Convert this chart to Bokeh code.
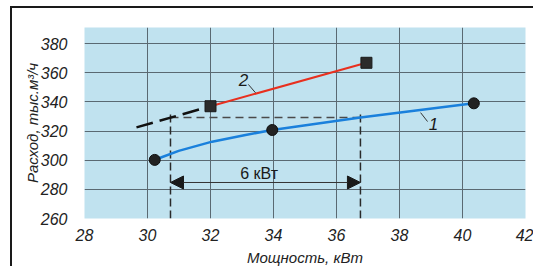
import math
from bokeh.plotting import figure
from bokeh.models import Label, Arrow, NormalHead, FixedTicker, Range1d
from bokeh.embed import file_html
from bokeh.resources import INLINE

# ---- data ----
x_ticks = [28, 30, 32, 34, 36, 38, 40, 42]
y_ticks = [260, 280, 300, 320, 340, 360, 380]

# curve 1 (blue) traced points and its measured points
curve1_x = [30.23, 30.47, 30.99, 32.05, 33.11, 33.96, 36.76, 40.36]
curve1_y = [300.2, 302.2, 306.4, 312.7, 317.3, 320.7, 329.2, 339.0]
pts1_x = [30.23, 33.96, 40.36]
pts1_y = [300.2, 320.7, 339.0]

# curve 2 (red) and its extrapolation (black dashed)
curve2_x = [32.0, 36.95]
curve2_y = [337.0, 366.8]
ext2_x = [29.65, 32.0]
ext2_y = [322.5, 337.0]

# equal-flow comparison
flow_level = 329.2
power_left = 30.73
power_right = 36.76
arrow_level = 284.7
delta_text = "6 кВт"

x_title = "Мощность, кВт"
y_title = "Расход, тыс.м³/ч"

FONT = "Liberation Sans"

p = figure(width=523, height=260, output_backend="svg", toolbar_location=None,
           x_range=Range1d(28, 42), y_range=Range1d(260, 391))
p.styles = {"border-top": "2px solid #1a1a1a", "border-left": "2px solid #1a1a1a",
            "margin-left": "10px", "margin-top": "6px"}
p.min_border_left = 72
p.min_border_right = 10
p.min_border_top = 19
p.min_border_bottom = 49
p.background_fill_color = "#c0e2ef"
p.border_fill_color = "white"
p.outline_line_color = None

for ax in (p.xaxis[0], p.yaxis[0]):
    ax.axis_line_color = None
    ax.major_tick_line_color = None
    ax.minor_tick_line_color = None
    ax.major_label_text_font = FONT
    ax.major_label_text_font_size = "16px"
    ax.major_label_text_font_style = "italic"
    ax.major_label_text_color = "#222222"
    ax.axis_label_text_font = FONT
    ax.axis_label_text_font_size = "15px"
    ax.axis_label_text_font_style = "italic"
    ax.axis_label_text_color = "#222222"
p.xaxis.axis_label = x_title
p.yaxis.axis_label = y_title
p.xaxis.ticker = FixedTicker(ticks=x_ticks)
p.yaxis.ticker = FixedTicker(ticks=y_ticks)
p.xaxis.major_label_standoff = 4
p.yaxis.major_label_standoff = 11
p.xaxis.axis_label_standoff = 5
p.yaxis.axis_label_standoff = -3

p.grid.grid_line_color = "#5a6972"
p.grid.grid_line_width = 1
p.xgrid.ticker = FixedTicker(ticks=x_ticks)
p.ygrid.ticker = FixedTicker(ticks=y_ticks)

# dashed construction lines
p.line([power_left, power_right], [flow_level, flow_level], line_color="#4a4a4a",
       line_width=1.5, line_dash="8 5")
for xv in (power_left, power_right):
    p.line([xv, xv], [260, flow_level + 2.5], line_color="#2a2a2a",
           line_width=1.5, line_dash="8 4")

# double arrow
p.add_layout(Arrow(x_start=power_left, y_start=arrow_level, x_end=power_right, y_end=arrow_level,
                   line_color="#333333", line_width=1,
                   start=NormalHead(size=13, fill_color="#1a1a1a", line_color="#1a1a1a"),
                   end=NormalHead(size=13, fill_color="#1a1a1a", line_color="#1a1a1a")))
p.add_layout(Label(x=(power_left + power_right) / 2 - 0.2, y=arrow_level + 6.5, text=delta_text,
                   text_font=FONT, text_font_size="16px", text_color="#1a1a1a",
                   text_align="center", text_baseline="middle"))

# curve 2
p.line(ext2_x, ext2_y, line_color="#111111", line_width=2.5, line_dash="17 7")
p.line(curve2_x, curve2_y, line_color="#e8301f", line_width=2)
p.scatter(curve2_x, curve2_y, marker="square", size=11, fill_color="#2b2b2b", line_color="#1a1a1a")

# curve 1
p.line(curve1_x, curve1_y, line_color="#1a80dc", line_width=2.5)
p.scatter(pts1_x, pts1_y, marker="circle", size=11, fill_color="#222222", line_color="#111111")

# curve labels with leaders
p.line([33.2, 33.43], [352.0, 346.2], line_color="#333333", line_width=1)
p.add_layout(Label(x=33.05, y=354.8, text="2", text_font=FONT, text_font_size="17px",
                   text_font_style="italic", text_color="#1a1a1a",
                   text_align="center", text_baseline="middle"))
p.line([38.67, 38.89], [332.6, 326.5], line_color="#333333", line_width=1)
p.add_layout(Label(x=39.08, y=325.0, text="1", text_font=FONT, text_font_size="17px",
                   text_font_style="italic", text_color="#1a1a1a",
                   text_align="center", text_baseline="middle"))

open("out.html", "w").write(file_html(p, INLINE))
